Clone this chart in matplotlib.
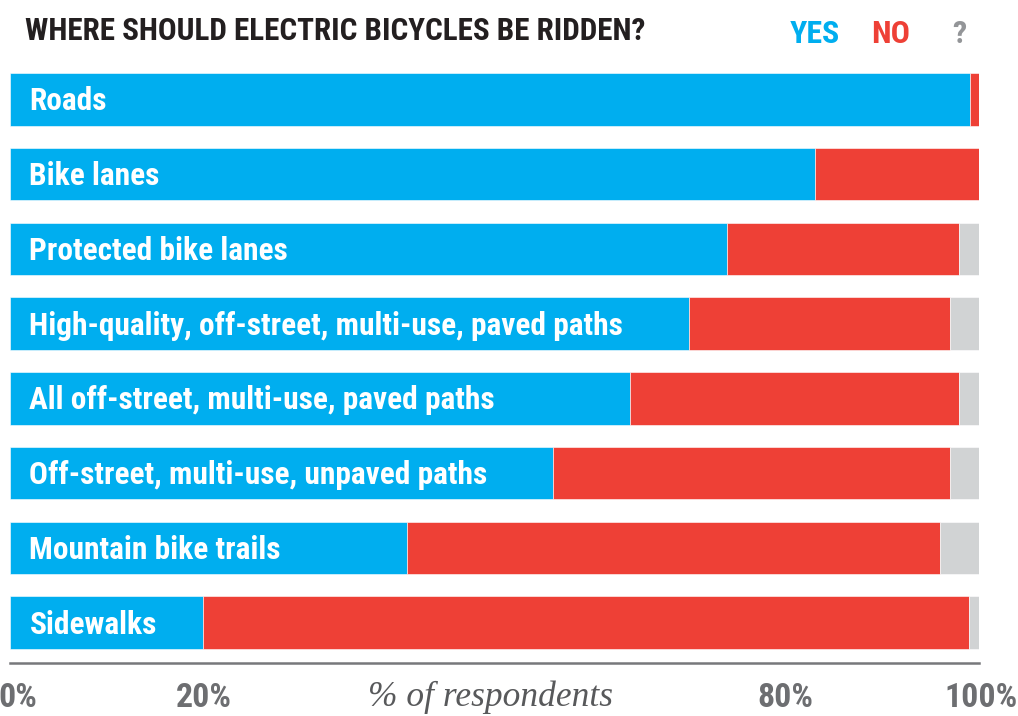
import matplotlib
matplotlib.use("Agg")
import matplotlib.pyplot as plt
from matplotlib import font_manager as fm
from matplotlib.transforms import blended_transform_factory, offset_copy

# ---------------- data ----------------
categories = [
    "Roads",
    "Bike lanes",
    "Protected bike lanes",
    "High-quality, off-street, multi-use, paved paths",
    "All off-street, multi-use, paved paths",
    "Off-street, multi-use, unpaved paths",
    "Mountain bike trails",
    "Sidewalks",
]
yes = [99.1, 83.1, 74.0, 70.1, 64.0, 56.0, 41.0, 19.9]
no = [0.9, 16.9, 23.9, 26.9, 33.9, 41.0, 55.0, 79.1]
unsure = [0.0, 0.0, 2.1, 3.0, 2.1, 3.0, 4.0, 1.0]
tick_values = [0, 20, 80, 100]
tick_labels = ["0%", "20%", "80%", "100%"]
title_text = "WHERE SHOULD ELECTRIC BICYCLES BE RIDDEN?"
legend_labels = ["YES", "NO", "?"]
xlabel_text = "% of respondents"

# ---------------- style ----------------
BLUE = "#00AEEF"
RED = "#EE4036"
GREY = "#D1D3D4"
DARK = "#231F20"
TICKGREY = "#6D6E71"
QGREY = "#939598"

names = {f.name for f in fm.fontManager.ttflist}
cond = next((n for n in ["Roboto Condensed", "Open Sans Condensed",
                         "Liberation Sans Narrow", "DejaVu Sans"] if n in names),
            "DejaVu Sans")
serif = next((n for n in ["Liberation Serif", "DejaVu Serif"] if n in names),
             "DejaVu Serif")

W, H = 1018, 716
fig = plt.figure(figsize=(W / 100, H / 100), dpi=100)
fig.patch.set_facecolor("white")

ax_left, ax_right = 10, 979
ax_top, ax_bottom = 62, 663
ax = fig.add_axes([ax_left / W, (H - ax_bottom) / H,
                   (ax_right - ax_left) / W, (ax_bottom - ax_top) / H])

n = len(categories)
ypos = list(range(n))
bh = 0.705
left_no = list(yes)
left_un = [y + m for y, m in zip(yes, no)]
ax.barh(ypos, yes, height=bh, color=BLUE, edgecolor="white", linewidth=0.4)
ax.barh(ypos, no, left=left_no, height=bh, color=RED, edgecolor="white", linewidth=0.4)
ax.barh(ypos, unsure, left=left_un, height=bh, color=GREY, edgecolor="white", linewidth=0.4)

ax.set_xlim(0, 100)
ax.set_ylim(n - 0.5 + 0.04, -0.5)
for s in ["top", "right", "left"]:
    ax.spines[s].set_visible(False)
ax.spines["bottom"].set_color("#77787B")
ax.spines["bottom"].set_linewidth(1.8)
ax.set_xticks([])
ax.set_yticks([])

# bar labels
lab_trans = offset_copy(ax.transData, fig=fig, x=0, y=-2, units="dots")
label_texts = []
for i, cat in enumerate(categories):
    t = ax.text(2.0, i, cat, color="white", fontsize=20, fontweight="bold",
                family=cond, va="center", ha="left", transform=lab_trans)
    label_texts.append(t)

# tick labels
trans = blended_transform_factory(ax.transData, fig.transFigure)
tick_texts = []
for v, lab in zip(tick_values, tick_labels):
    ha = "center"
    x = v
    if v == 0:
        ha = "left"
        x = -1.2
    elif v == 100:
        ha = "right"
        x = 104.0
    t = ax.text(x, (H - 698) / H, lab, transform=trans, color=TICKGREY,
                fontsize=20, fontweight="bold", family=cond, ha=ha, va="center",
                clip_on=False)
    tick_texts.append(t)

xl = fig.text(490 / W, (H - 697) / H, xlabel_text, color="#58595B", fontsize=22,
              style="italic", family=serif, ha="center", va="center")

# title and legend
title = fig.text(25 / W, (H - 31) / H, title_text, color=DARK, fontsize=20,
                 fontweight="bold", family=cond, ha="left", va="center")
leg_cols = [BLUE, RED, QGREY]
leg_x = [815, 891, 959]
leg_texts = []
for lab, c, x in zip(legend_labels, leg_cols, leg_x):
    t = fig.text(x / W, (H - 34) / H, lab, color=c, fontsize=20,
                 fontweight="bold", family=cond, ha="center", va="center")
    leg_texts.append(t)

# fit text widths to the reference
fig.canvas.draw()
r = fig.canvas.get_renderer()


def fit(t, target_px):
    bb = t.get_window_extent(r)
    t.set_fontsize(t.get_fontsize() * target_px / bb.width)


fit(label_texts[3], 592)
fs = label_texts[3].get_fontsize()
for t in label_texts:
    t.set_fontsize(fs)
fit(title, 622)
fit(tick_texts[3], 73)
for t in tick_texts:
    t.set_fontsize(tick_texts[3].get_fontsize())
fit(leg_texts[0], 50)
for t in leg_texts:
    t.set_fontsize(leg_texts[0].get_fontsize())
fit(xl, 244)

fig.savefig("out.png", dpi=100, facecolor="white")
